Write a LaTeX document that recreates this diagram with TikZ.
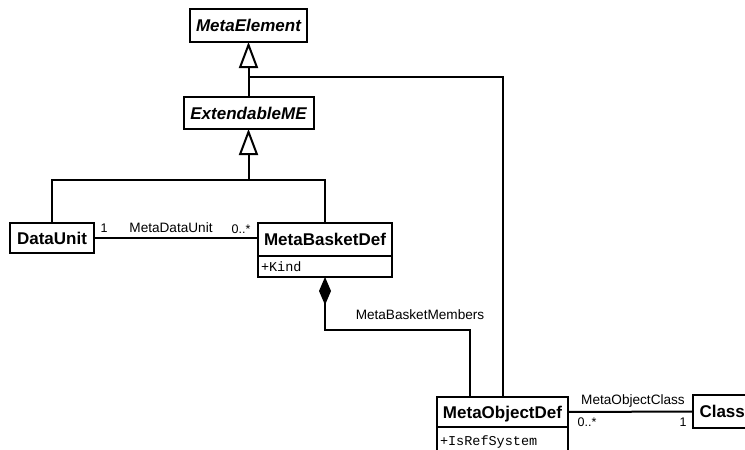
\documentclass[tikz,border=0pt]{standalone}
\usepackage{fontspec}
\setmainfont{Liberation Sans}
\newfontfamily\monof{Liberation Mono}
\usetikzlibrary{arrows.meta}
\begin{document}
\begin{tikzpicture}[x=1pt,y=-1pt,line width=2pt,line join=miter,
  cls/.style={draw,line width=2pt,inner sep=0pt,outer sep=0pt,text height=12.2pt,text depth=0pt,
    font=\fontsize{17}{20}\selectfont\bfseries},
  clsi/.style={cls,font=\fontsize{17}{20}\selectfont\bfseries\itshape},
  attr/.style={draw,line width=2pt,inner ysep=0pt,inner xsep=3pt,outer sep=0pt,align=left,
    text height=9pt,text depth=0pt,font=\monof\fontsize{13.5}{15}\selectfont},
  lbl/.style={inner sep=0pt,font=\fontsize{13.6}{15}\selectfont},
  mult/.style={inner sep=0pt,anchor=base,font=\fontsize{12.5}{14}\selectfont},
  gen/.style={-{Triangle[open,length=26pt,width=19pt]}},
  comp/.style={{Diamond[length=28pt,width=12pt]}-}]
\clip (0,0) rectangle (745,450);
% classes
\node[clsi,minimum width=117pt,minimum height=33pt] (me) at (248.5,25.5) {MetaElement};
\node[clsi,minimum width=130pt,minimum height=32pt] (eme) at (248.5,113) {ExtendableME};
\node[cls,minimum width=84pt,minimum height=30pt] (du) at (52,238) {DataUnit};
\node[cls,minimum width=134pt,minimum height=33pt] (mbd) at (325,239.5) {MetaBasketDef};
\node[attr,text width=128pt,minimum height=21pt,anchor=north] (mbda) at (mbd.south) {+Kind};
\node[cls,minimum width=131pt,minimum height=30pt] (mod) at (502.5,412) {MetaObjectDef};
\node[attr,text width=125pt,minimum height=28pt,anchor=north] (moda) at (mod.south) {+IsRefSystem};
\node[cls,inner xsep=6.5pt,minimum height=33pt,anchor=west] (cl) at (693,411.5) {Class};
% generalizations
\coordinate (j1) at (248.5,77);
\coordinate (j2) at (248.5,180);
\draw[gen] (eme.north) -- (me.south);
\draw (mod.north) |- (j1);
\draw[gen] (j2) -- (eme.south);
\draw (du.north) |- (mbd.north |- j2) -- (mbd.north);
% associations
\draw (du.east) -- (du.east -| mbd.west);
\draw (mod.east) -- (cl.west);
% composition
\coordinate (c1) at (470,330);
\draw[comp] (mbda.south) |- (c1) -- (c1 |- mod.north);
% labels
\node[mult] (m1) at (104,232) {1};
\node[lbl,anchor=base] (l1) at (171,232) {MetaDataUnit};
\node[mult] (m2) at (241,233) {0..*};
\node[lbl] (l2) at (420,315) {MetaBasketMembers};
\node[lbl,anchor=base] (l3) at (633,404) {MetaObjectClass};
\node[mult] (m3) at (587,426) {0..*};
\node[mult] (m4) at (683,426) {1};
\end{tikzpicture}
\end{document}
